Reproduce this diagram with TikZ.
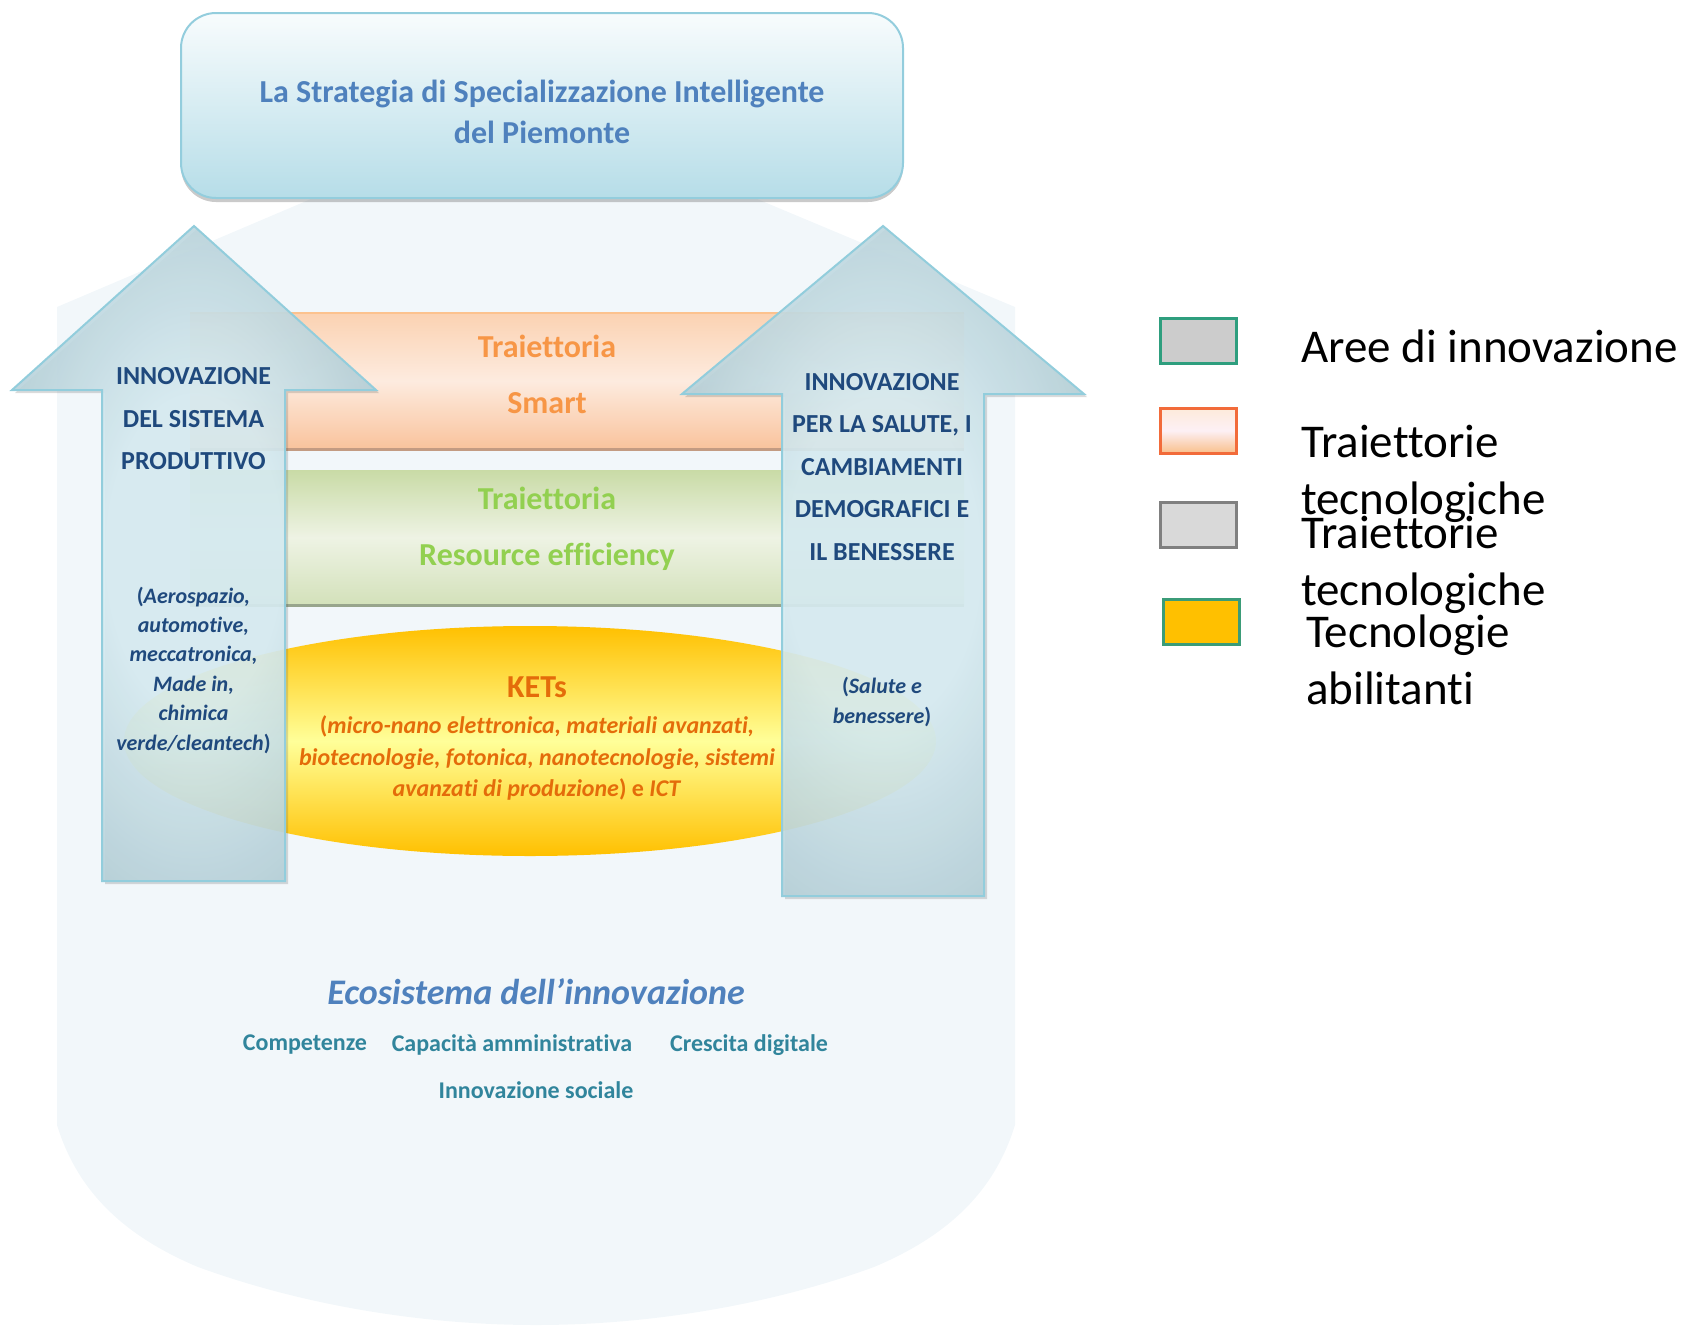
\documentclass[tikz,border=0pt]{standalone}
\usepackage{fontspec}
\setmainfont{Carlito}[Ligatures=NoCommon]
\usetikzlibrary{shapes.geometric,shadows}
\definecolor{bgc}{HTML}{F2F7FA}
\definecolor{titleblue}{HTML}{4F81BD}
\definecolor{titletop}{HTML}{F8FCFD}
\definecolor{titlebot}{HTML}{B6DDE8}
\definecolor{titleline}{HTML}{93CDDD}
\definecolor{arwin}{HTML}{D8EDF3}
\definecolor{arwout}{HTML}{8EAFBA}
\definecolor{arwline}{HTML}{92CDDC}
\definecolor{arwtext}{HTML}{1F497D}
\definecolor{orangetxt}{HTML}{F79646}
\definecolor{greentxt}{HTML}{92D050}
\definecolor{ketstxt}{HTML}{E46C0A}
\definecolor{tealtxt}{HTML}{31859C}
\definecolor{obtop}{HTML}{FBD2B2}
\definecolor{obmid}{HTML}{FDEBDF}
\definecolor{obbot}{HTML}{F9C39C}
\definecolor{obline}{HTML}{C39B82}
\definecolor{gbtop}{HTML}{C9DBA6}
\definecolor{gbmid}{HTML}{EEF3E4}
\definecolor{gbbot}{HTML}{D3E1BA}
\definecolor{gbline}{HTML}{98A58C}
\definecolor{elltop}{HTML}{FFC000}
\definecolor{ellmid}{HTML}{FFFF99}
\definecolor{leg1line}{HTML}{2E9E7E}
\definecolor{leg2line}{HTML}{F26B3A}
\definecolor{leg2top}{HTML}{FDEADA}
\definecolor{leg2mid}{HTML}{FDF0F5}
\definecolor{leg2bot}{HTML}{F9C08C}
\definecolor{leg4line}{HTML}{3B9C78}
\pgfdeclareradialshading{arwshade}{\pgfpoint{0bp}{0bp}}{color(0bp)=(arwin); color(12bp)=(arwin); color(46bp)=(arwout); color(100bp)=(arwout)}
\tikzset{
  titlebox/.style={rectangle, rounded corners=35, minimum width=722, minimum height=185,
    top color=titletop, bottom color=titlebot, draw=titleline, line width=2,
    drop shadow={shadow xshift=0pt, shadow yshift=-4pt, opacity=0.35, fill=black!60}},
  titletxt/.style={font=\fontsize{32}{41}\selectfont\bfseries, text=titleblue, align=center},
  band/.style={rectangle, minimum width=774, minimum height=136, inner sep=0},
  bandtxt/.style={font=\fontsize{32}{56}\selectfont\bfseries, align=center},
  ketsell/.style={ellipse, minimum width=812, minimum height=230, inner sep=0,
    top color=elltop, bottom color=elltop, middle color=ellmid},
  arwstyle/.style={shading=arwshade, draw=arwline, line width=2, fill opacity=0.9,
    line join=miter,
    drop shadow={shadow xshift=3pt, shadow yshift=-3pt, opacity=0.2, fill=black!70}},
  arwcaps/.style={font=\fontsize{26}{42.5}\selectfont\bfseries, text=arwtext, align=center},
  arwital/.style={font=\fontsize{22}{29.4}\selectfont\bfseries, text=arwtext, align=center},
  ketsital/.style={font=\fontsize{24}{31.5}\selectfont\bfseries, text=ketstxt, align=center},
  ecotxt/.style={font=\fontsize{36}{40}\selectfont\bfseries\itshape, text=titleblue},
  bottxt/.style={font=\fontsize{24}{28}\selectfont\bfseries, text=tealtxt},
  legbox/.style={rectangle, minimum width=76, minimum height=45, inner sep=0, line width=3},
  legtxt/.style={font=\fontsize{47}{57}\selectfont, text=black, align=left, anchor=west, inner sep=0}
}
\begin{document}
\begin{tikzpicture}[x=1pt,y=-1pt]
\useasboundingbox (0,0) rectangle (1689,1325);
% background ecosystem shape
\fill[bgc] (311,199) -- (757,199) -- (1015,307) -- (1015,1125)
  .. controls (995,1190) and (950,1235) .. (874,1267)
  .. controls (770,1305) and (650,1325) .. (536,1325)
  .. controls (422,1325) and (302,1305) .. (198,1267)
  .. controls (122,1235) and (77,1190) .. (57,1125) -- (57,307) -- cycle;
% title
\node[titlebox] (titlebg) at (542,105.5) {};
\node[titletxt] (title) at (542,112) {La Strategia di Specializzazione Intelligente\\del Piemonte};
% bands
\node[band, top color=obtop, bottom color=obbot, middle color=obmid] (oband) at (577,381) {};
\draw[obtop!80!orange, line width=2] (oband.north west) -- (oband.north east);
\draw[obline, line width=3] (oband.south west) -- (oband.south east);
\node[band, minimum height=135, top color=gbtop, bottom color=gbbot, middle color=gbmid] (gband) at (577,537.5) {};
\draw[gbline, line width=3] (gband.south west) -- (gband.south east);
\node[bandtxt, text=orangetxt] (smart) at (547,374) {Traiettoria\\Smart};
\node[bandtxt, text=greentxt] (resef) at (547,529) {Traiettoria\\Resource efficiency};
% KETs ellipse
\node[ketsell] (kell) at (530,741) {};
\node[font=\fontsize{32}{36}\selectfont\bfseries, text=ketstxt] (kets) at (537,687) {KETs};
\node[ketsital] (ketslist) at (537,758) {(\textit{micro-nano elettronica, materiali avanzati,}\\\textit{biotecnologie, fotonica, nanotecnologie, sistemi}\\\textit{avanzati di produzione}) e \textit{ICT}};
% arrows
\path[arwstyle] (194,226) -- (376,390) -- (285,390) -- (285,881) -- (102,881) -- (102,390) -- (12,390) -- cycle;
\path[arwstyle] (883,226) -- (1084,394) -- (984,394) -- (984,896) -- (782,896) -- (782,394) -- (682,394) -- cycle;
% arrow texts
\node[arwcaps] (lcaps) at (193.5,419) {INNOVAZIONE\\DEL SISTEMA\\PRODUTTIVO};
\node[arwital] (lital) at (193.5,670) {(\textit{Aerospazio,}\\\textit{automotive,}\\\textit{meccatronica,}\\\textit{Made in,}\\\textit{chimica}\\\textit{verde/cleantech})};
\node[arwcaps] (rcaps) at (882,467) {INNOVAZIONE\\PER LA SALUTE, I\\CAMBIAMENTI\\DEMOGRAFICI E\\IL BENESSERE};
\node[arwital] (rital) at (882,702) {(\textit{Salute e}\\\textit{benessere})};
% ecosystem texts
\node[ecotxt] (eco) at (536,992) {Ecosistema dell’innovazione};
\node[bottxt] (comp) at (305,1045) {Competenze};
\node[bottxt] (capa) at (512,1045) {Capacità amministrativa};
\node[bottxt] (cresc) at (749,1045) {Crescita digitale};
\node[bottxt] (socia) at (536,1090) {Innovazione sociale};
% legend
\node[legbox, fill=black!20, draw=leg1line] (leg1) at (1198,340.5) {};
\node[legbox, top color=leg2top, bottom color=leg2bot, middle color=leg2mid, draw=leg2line] (leg2) at (1198,430.5) {};
\node[legbox, fill=black!15, draw=black!50] (leg3) at (1198,524.5) {};
\node[legbox, fill=elltop, draw=leg4line] (leg4) at (1201,621.5) {};
\node[legtxt] (leg1t) at (1301,346) {Aree di innovazione};
\node[legtxt] (leg2t) at (1301,474) {Traiettorie\\tecnologiche};
\node[legtxt] (leg3t) at (1301,565) {Traiettorie\\tecnologiche};
\node[legtxt] (leg4t) at (1306,660) {Tecnologie\\abilitanti};
\end{tikzpicture}
\end{document}
